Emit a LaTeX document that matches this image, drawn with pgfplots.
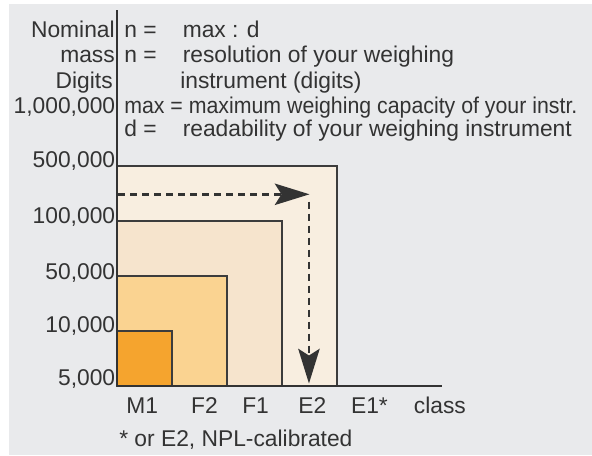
\documentclass[border=0pt]{standalone}
\usepackage{fontspec}
\setmainfont{Liberation Sans}
\usepackage{pgfplots}
\pgfplotsset{compat=1.18}
\usetikzlibrary{arrows.meta}
\definecolor{bg}{HTML}{E9EAEC}
\definecolor{txt}{HTML}{333333}
\definecolor{edge}{HTML}{3C3C3C}
\definecolor{cM}{HTML}{F5A42E}
\definecolor{cFtwo}{HTML}{FAD391}
\definecolor{cFone}{HTML}{F6E4CD}
\definecolor{cEtwo}{HTML}{F8EEE0}
\newcommand{\fs}{\fontsize{17.1}{20}\selectfont}
\begin{document}
\begin{tikzpicture}
\begin{scope}[x=0.75pt,y=0.75pt]
\useasboundingbox (0,0) rectangle (592,455);
\fill[white] (0,0) rectangle (592,455);
\fill[bg] (9,0) rectangle (592,451);
\end{scope}
\begin{axis}[
  at={(87.75pt,51.75pt)}, anchor=south west,
  scale only axis, width=243.8pt, height=282.2pt,
  xmin=0, xmax=5.91, ymin=0, ymax=6.84,
  axis x line=bottom, axis y line=left,
  axis line style={-, line width=1.7pt, color=txt},
  axis on top=true, clip=false,
  major tick length=0pt,
  tick style={draw=none},
  font=\fs,
  xtick={0.46,1.59,2.52,3.55,4.59,5.87},
  xticklabels={M1,F2,F1,E2,E1*,class},
  xticklabel style={anchor=base, inner sep=0pt, yshift=-20.25pt, text=txt},
  ytick={0.1,1.064,2.02,3.04,4.05,5.04},
  yticklabels={{5,000},{10,000},{50,000},{100,000},{500,000},{1,000,000}},
  yticklabel style={anchor=base east, inner sep=0pt, xshift=-1.2pt, yshift=-0.358em, text=txt},
]
\addplot[fill=cEtwo, draw=edge, line width=0.9pt] coordinates {(0,4) (4,4)} \closedcycle;
\addplot[fill=cFone, draw=edge, line width=0.8pt] coordinates {(0,3) (3,3)} \closedcycle;
\addplot[fill=cFtwo, draw=edge, line width=0.8pt] coordinates {(0,2) (2,2)} \closedcycle;
\addplot[fill=cM, draw=edge, line width=0.8pt] coordinates {(0,1) (1,1)} \closedcycle;
\addplot[txt, line width=2.1pt, dash pattern=on 5.25pt off 3.75pt,
  -{Stealth[length=26pt, width=16pt, inset=5pt]}] coordinates {(0.02,3.485) (3.50,3.485)};
\addplot[txt, line width=2.1pt, dash pattern=on 5.25pt off 3.75pt,
  -{Stealth[length=26pt, width=16pt, inset=5pt]}] coordinates {(3.49,3.35) (3.49,0.045)};
\end{axis}
\begin{scope}[x=0.75pt,y=0.75pt, every node/.style={inner sep=0pt, text=txt, font=\fs}]
\node[anchor=base east] at (115,455-37) {Nominal};
\node[anchor=base east] at (115,455-62) {mass};
\node[anchor=base east] at (113,455-88) {Digits};
\node[anchor=base west] at (124,455-37) {n =};
\node[anchor=base west] at (182.5,455-37) {max : d};
\node[anchor=base west] at (124,455-62) {n =};
\node[anchor=base west] at (182.5,455-62) {resolution of your weighing};
\node[anchor=base west] at (180,455-88) {instrument (digits)};
\node[anchor=base west] at (124,455-113) {\scalebox{0.935}[1]{max = maximum weighing capacity of your instr.}};
\node[anchor=base west] at (124,455-136) {d =};
\node[anchor=base west] at (182.5,455-136) {readability of your weighing instrument};
\node[anchor=base west] at (119,455-446) {* or E2, NPL-calibrated};
\end{scope}
\end{tikzpicture}
\end{document}
